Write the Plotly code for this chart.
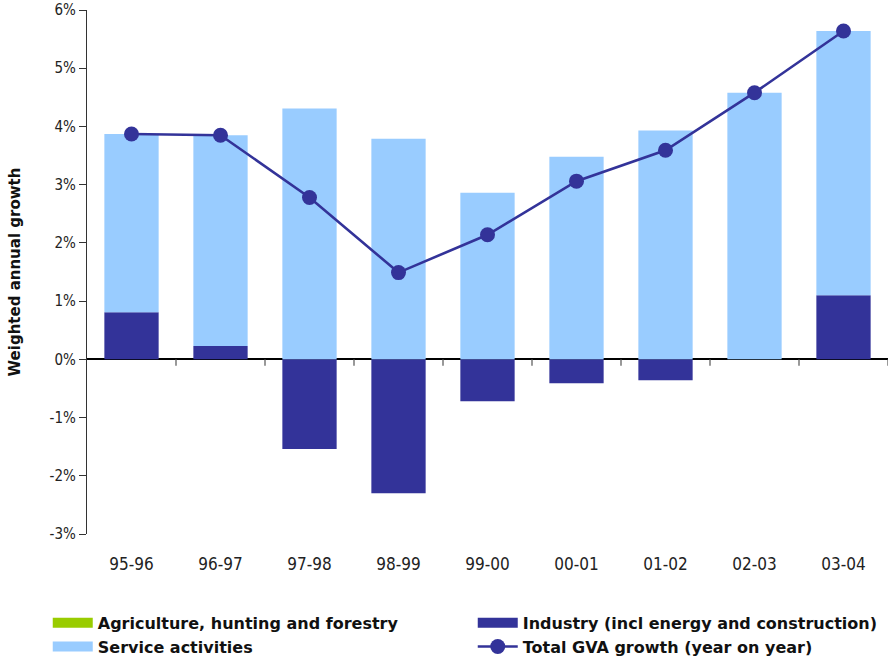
import plotly.graph_objects as go

# Weighted contributions to annual GVA growth (percentage points)
periods = ["95-96", "96-97", "97-98", "98-99", "99-00", "00-01", "01-02", "02-03", "03-04"]
agriculture = [0, 0, 0, 0, 0, 0, 0, 0, 0]
industry = [0.81, 0.23, -1.54, -2.30, -0.72, -0.41, -0.36, 0.0, 1.10]
services = [3.06, 3.62, 4.31, 3.79, 2.86, 3.48, 3.93, 4.58, 4.54]
total_gva = [3.87, 3.85, 2.78, 1.49, 2.14, 3.06, 3.59, 4.58, 5.64]

y_ticks = [-3, -2, -1, 0, 1, 2, 3, 4, 5, 6]

DARK = "#333399"
LIGHT = "#99CCFF"
GREEN = "#99CC00"

series = [
    ("Agriculture, hunting and forestry", agriculture, GREEN),
    ("Industry (incl energy and construction)", industry, DARK),
    ("Service activities", services, LIGHT),
]

fig = go.Figure()
for name, vals, col in series:
    fig.add_trace(go.Bar(x=periods, y=vals, name=name, showlegend=False,
                         marker=dict(color=col, line=dict(width=0))))

# legend entries: wide rectangular swatches for the bar series
for name, vals, col in series:
    fig.add_trace(go.Scatter(x=[None], y=[None], name=name, mode="lines",
                             line=dict(color=col, width=12), showlegend=True,
                             hoverinfo="skip"))

fig.add_trace(go.Scatter(x=periods, y=total_gva, name="Total GVA growth (year on year)",
                         mode="lines+markers",
                         line=dict(color=DARK, width=2.6),
                         marker=dict(color=DARK, size=15)))

# small tick marks on the zero line, at the boundaries between categories
for i in range(len(periods)):
    fig.add_shape(type="line", xref="x", yref="y",
                  x0=i + 0.5, x1=i + 0.5, y0=0, y1=-0.11,
                  line=dict(color="#555555", width=1.2))

fig.update_layout(
    width=891, height=662,
    barmode="relative",
    bargap=0.39,
    plot_bgcolor="white",
    paper_bgcolor="white",
    margin=dict(l=87, r=3, t=10, b=128, autoexpand=False),
    font=dict(family="DejaVu Sans", color="#111111"),
    showlegend=True,
    legend=dict(
        orientation="h",
        x=-0.049, xanchor="left",
        y=-0.137, yanchor="top",
        entrywidth=370, entrywidthmode="pixels",
        traceorder="normal",
        font=dict(family="DejaVu Sans", size=16, color="#111111", weight="bold"),
        itemwidth=40,
        tracegroupgap=0,
    ),
    xaxis=dict(
        type="category",
        range=[-0.5, len(periods) - 0.5],
        showline=False,
        ticks="outside",
        ticklen=15,
        tickcolor="rgba(0,0,0,0)",
        showgrid=False,
        tickfont=dict(family="DejaVu Sans Condensed, DejaVu Sans", size=17, color="#222222"),
    ),
    yaxis=dict(
        range=[-3, 6],
        tickmode="array",
        tickvals=y_ticks,
        ticktext=[f"{v}%" for v in y_ticks],
        showgrid=False,
        showline=True,
        linecolor="#333333",
        linewidth=1.2,
        ticks="outside",
        ticklen=7,
        tickcolor="#333333",
        zeroline=True,
        zerolinecolor="black",
        zerolinewidth=1.5,
        tickfont=dict(family="DejaVu Sans Condensed, DejaVu Sans", size=15, color="#222222"),
        title=dict(text="Weighted annual growth",
                   font=dict(family="DejaVu Sans", size=15, color="#111111", weight="bold"),
                   standoff=25),
    ),
)

fig.write_html("out.html")
